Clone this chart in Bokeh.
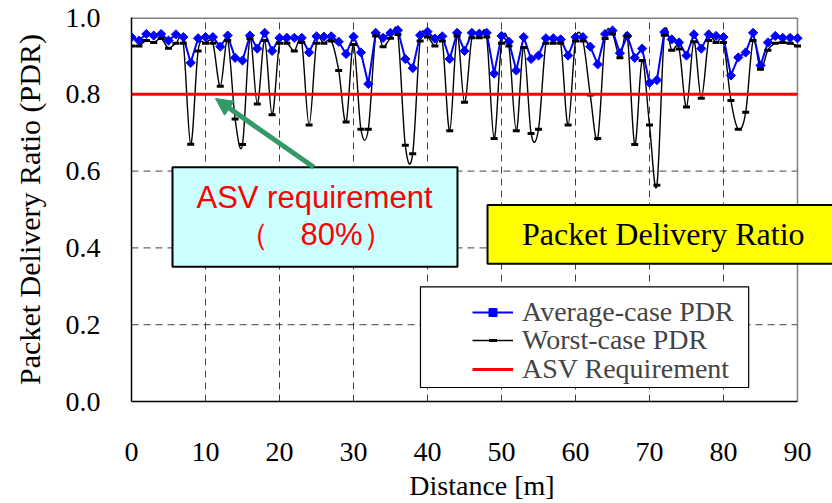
import numpy as np
from bokeh.plotting import figure
from bokeh.models import (Range1d, FixedTicker, PrintfTickFormatter, Legend, LegendItem,
                          Label, Arrow, NormalHead)
from bokeh.embed import file_html
from bokeh.resources import INLINE

# ---------------- data ----------------
distance = list(range(0, 91))
average_pdr = [0.949, 0.940, 0.957, 0.953, 0.957, 0.940, 0.956, 0.949, 0.882, 0.946,
               0.949, 0.949, 0.924, 0.953, 0.895, 0.888, 0.953, 0.919, 0.960, 0.913,
               0.947, 0.947, 0.947, 0.947, 0.909, 0.951, 0.950, 0.951, 0.937, 0.905,
               0.950, 0.909, 0.827, 0.960, 0.947, 0.960, 0.967, 0.892, 0.868, 0.954,
               0.963, 0.945, 0.951, 0.892, 0.960, 0.913, 0.960, 0.958, 0.960, 0.854,
               0.952, 0.937, 0.862, 0.949, 0.892, 0.901, 0.946, 0.946, 0.943, 0.901,
               0.949, 0.949, 0.924, 0.878, 0.957, 0.966, 0.907, 0.952, 0.895, 0.919,
               0.830, 0.837, 0.962, 0.943, 0.935, 0.901, 0.956, 0.919, 0.956, 0.952,
               0.949, 0.849, 0.896, 0.909, 0.960, 0.875, 0.935, 0.952, 0.947, 0.947,
               0.946]
worst_pdr = [0.926, 0.926, 0.940, 0.935, 0.945, 0.920, 0.933, 0.933, 0.670, 0.913,
             0.933, 0.933, 0.821, 0.940, 0.736, 0.669, 0.945, 0.775, 0.940, 0.747,
             0.933, 0.933, 0.913, 0.935, 0.720, 0.933, 0.933, 0.939, 0.862, 0.728,
             0.930, 0.709, 0.709, 0.952, 0.924, 0.946, 0.956, 0.667, 0.645, 0.939,
             0.949, 0.926, 0.939, 0.705, 0.952, 0.779, 0.947, 0.947, 0.949, 0.685,
             0.933, 0.926, 0.705, 0.922, 0.698, 0.709, 0.933, 0.933, 0.933, 0.720,
             0.939, 0.939, 0.798, 0.685, 0.945, 0.957, 0.895, 0.952, 0.669, 0.888,
             0.720, 0.563, 0.954, 0.915, 0.918, 0.767, 0.937, 0.790, 0.940, 0.935,
             0.935, 0.784, 0.709, 0.753, 0.940, 0.865, 0.915, 0.933, 0.935, 0.933,
             0.926]
asv_x = [0, 90]
asv_y = [0.8, 0.8]
x_ticks = [0, 10, 20, 30, 40, 50, 60, 70, 80, 90]
y_ticks = [0.0, 0.2, 0.4, 0.6, 0.8, 1.0]

SERIF = "Liberation Serif"
SANS = "Liberation Sans"
X_MAX = 90
X_VIEW_END = X_MAX * 701.0 / 666.0   # frame continues to the right edge (for the yellow box)

p = figure(width=832, height=503, output_backend="svg", toolbar_location=None,
           x_range=Range1d(0, X_VIEW_END), y_range=Range1d(0, 1.0),
           min_border_left=131, min_border_right=0, min_border_top=17, min_border_bottom=101)
p.background_fill_color = "white"
p.border_fill_color = "white"
p.outline_line_color = None

# axes
p.xaxis.ticker = FixedTicker(ticks=x_ticks)
p.xaxis.bounds = (0, X_MAX)
p.yaxis.ticker = FixedTicker(ticks=y_ticks)
p.yaxis.formatter = PrintfTickFormatter(format="%.1f")
for ax in (p.xaxis[0], p.yaxis[0]):
    ax.axis_line_color = "black"
    ax.axis_line_width = 1.5
    ax.major_tick_in = 0
    ax.major_tick_out = 0
    ax.minor_tick_in = 0
    ax.minor_tick_out = 0
    ax.major_label_text_font = SERIF
    ax.major_label_text_font_size = "28px"
    ax.major_label_text_color = "black"
    ax.axis_label_text_font = SERIF
    ax.axis_label_text_font_style = "normal"
    ax.axis_label_text_color = "black"
p.xaxis.major_label_standoff = 41
p.xaxis.axis_label = "Distance [m]"
p.xaxis.axis_label_text_font_size = "28px"
p.xaxis.axis_label_standoff = 6
p.yaxis.major_label_standoff = 31
p.yaxis.axis_label = "Packet Delivery Ratio (PDR)"
p.yaxis.axis_label_text_font_size = "30px"
p.yaxis.axis_label_standoff = 17

# grid: vertical via Grid, horizontal drawn only across the 0-90 plot area
p.xgrid.ticker = FixedTicker(ticks=x_ticks[1:-1])
p.xgrid.grid_line_color = "#404040"
p.xgrid.grid_line_dash = "7 5"
p.xgrid.grid_line_width = 1
p.ygrid.grid_line_color = None
gy = y_ticks[1:-1]
p.segment(x0=[0] * len(gy), y0=gy, x1=[X_MAX] * len(gy), y1=gy,
          line_color="#404040", line_dash="7 5", line_width=1)

# top / right plot-area border (gray)
p.segment(x0=[0], y0=[y_ticks[-1]], x1=[X_MAX], y1=[y_ticks[-1]], line_color="#808080", line_width=3)
p.segment(x0=[X_MAX], y0=[y_ticks[0]], x1=[X_MAX], y1=[y_ticks[-1]], line_color="#808080", line_width=1.5)

# smoothed worst-case line (Catmull-Rom -> cubic Bezier)
xs = np.array(distance, dtype=float)
ys = np.array(worst_pdr, dtype=float)
n = len(xs)
XP = np.concatenate([[xs[0]], xs, [xs[-1]]])
YP = np.concatenate([[ys[0]], ys, [ys[-1]]])
cx0 = XP[1:n] + (XP[2:n + 1] - XP[0:n - 1]) / 6.0
cy0 = YP[1:n] + (YP[2:n + 1] - YP[0:n - 1]) / 6.0
cx1 = XP[2:n + 1] - (XP[3:n + 2] - XP[1:n]) / 6.0
cy1 = YP[2:n + 1] - (YP[3:n + 2] - YP[1:n]) / 6.0
worst_curve = p.bezier(x0=xs[:-1], y0=ys[:-1], x1=xs[1:], y1=ys[1:],
                       cx0=cx0, cy0=cy0, cx1=cx1, cy1=cy1,
                       line_color="black", line_width=1.4)

avg_line = p.line(distance, average_pdr, line_color="#0000FF", line_width=2)
avg_pts = p.scatter(distance, average_pdr, marker="square", angle=np.pi / 4, size=6.5,
                    fill_color="#0000FF", line_color="#0000FF")
worst_pts = p.scatter(distance, worst_pdr, marker="dash", size=7, line_color="black",
                      line_width=3)
asv_line = p.line(asv_x, asv_y, line_color="#FF0000", line_width=3)

# legend box
p.quad(left=39.05, right=83.4, top=0.2987, bottom=0.0364, fill_color="white",
       line_color="black", line_width=1.2)


def add_legend_entry(label, renderers, loc_y):
    lg = Legend(items=[LegendItem(label=label, renderers=renderers)], location=(341, loc_y))
    lg.padding = 0
    lg.margin = 0
    lg.spacing = 0
    lg.glyph_width = 41
    lg.glyph_height = 20
    lg.label_height = 29
    lg.label_standoff = 9
    lg.label_text_font = SERIF
    lg.label_text_font_size = "28px"
    lg.border_line_alpha = 0
    lg.background_fill_alpha = 0
    p.add_layout(lg)


add_legend_entry("Average-case PDR", [avg_line, avg_pts], 73)
add_legend_entry("Worst-case PDR", [worst_curve, worst_pts], 45)
add_legend_entry("ASV Requirement", [asv_line], 16)

# cyan annotation box
p.quad(left=5.54, right=44.05, top=0.610, bottom=0.351, fill_color="#CCFFFF",
       line_color="black", line_width=2)
p.add_layout(Label(x=24.73, y=0.532, text="ASV requirement", text_align="center",
                   text_baseline="alphabetic", text_font=SANS, text_font_size="31px",
                   text_color="#FF0000"))
p.add_layout(Label(x=24.93, y=0.435, text="（\u300080%）", text_align="center",
                   text_baseline="alphabetic", text_font=SANS, text_font_size="31px",
                   text_color="#FF0000"))

# arrow
p.add_layout(Arrow(end=NormalHead(size=17, fill_color="#339966", line_color="#339966"),
                   x_start=24.64, y_start=0.61, x_end=11.35, y_end=0.789,
                   line_color="#339966", line_width=5))

# yellow title box (runs off the right edge)
p.quad(left=48.11, right=X_VIEW_END + 5, top=0.5117, bottom=0.3584, fill_color="#FFFF00",
       line_color="black", line_width=2)
p.add_layout(Label(x=71.86, y=0.437, text="Packet Delivery Ratio", text_align="center",
                   text_baseline="alphabetic", text_font=SERIF, text_font_size="32px",
                   text_color="black"))

open("out.html", "w").write(file_html(p, INLINE))
